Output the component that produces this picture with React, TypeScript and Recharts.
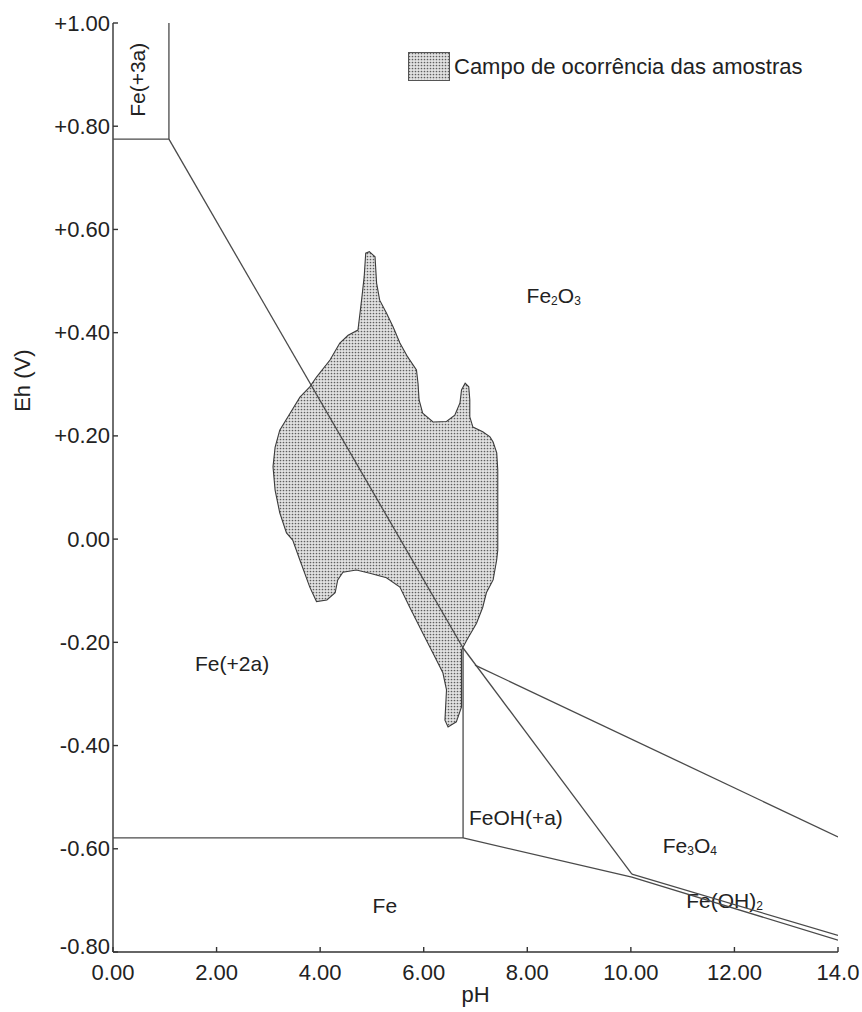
import React from 'react';
import { ComposedChart, Line, XAxis, YAxis, ReferenceDot, Legend } from 'recharts';

const FONT = '"Liberation Sans", Arial, sans-serif';
const INK = '#222';
const LINE = '#4a4a4a';

// axis ticks
const PH_TICKS = [0, 2, 4, 6, 8, 10, 12, 14];
const EH_TICKS = [-0.8, -0.6, -0.4, -0.2, 0, 0.2, 0.4, 0.6, 0.8, 1.0];

// outline of the sample field (pH, Eh), traced clockwise from the top of the spike
const samplePh = [
  4.95, 5.06, 5.09, 5.15, 5.28, 5.41, 5.54, 5.69, 5.86, 5.89, 5.91, 5.98, 6.18, 6.44, 6.6, 6.7,
  6.73, 6.8, 6.87, 6.89, 6.89, 6.95, 7.14, 7.28, 7.34, 7.41, 7.43, 7.43, 7.43, 7.41, 7.34, 7.21,
  7.14, 7.02, 6.83, 6.73, 6.73, 6.73, 6.63, 6.47, 6.41, 6.44, 6.37, 6.18, 5.98, 5.73, 5.54, 5.28,
  4.96, 4.7, 4.44, 4.34, 4.29, 4.13, 3.93, 3.8, 3.61, 3.47, 3.35, 3.22, 3.13, 3.09, 3.13, 3.22,
  3.42, 3.61, 3.8, 3.93, 4.19, 4.38, 4.54, 4.73, 4.8, 4.85, 4.88, 4.95,
];
const sampleEh = [
  0.557, 0.547, 0.496, 0.463, 0.438, 0.411, 0.38, 0.353, 0.328, 0.302, 0.27, 0.244, 0.227, 0.228, 0.24, 0.264,
  0.289, 0.302, 0.295, 0.27, 0.237, 0.217, 0.208, 0.198, 0.188, 0.167, 0.134, 0.076, -0.021, -0.04, -0.079, -0.104,
  -0.132, -0.163, -0.196, -0.215, -0.259, -0.325, -0.354, -0.364, -0.351, -0.292, -0.259, -0.221, -0.182, -0.132, -0.093, -0.075,
  -0.066, -0.06, -0.064, -0.079, -0.104, -0.118, -0.121, -0.093, -0.041, -0.002, 0.012, 0.051, 0.095, 0.14, 0.178, 0.211,
  0.244, 0.275, 0.295, 0.314, 0.347, 0.38, 0.395, 0.405, 0.463, 0.508, 0.554, 0.557,
];

// stability field boundaries, [pH, Eh]
const fe3aBox = [[0, 0.775], [1.08, 0.775], [1.08, 1.0]];
const fe2aFe2o3 = [[1.08, 0.775], [6.76, -0.211]];
const feohFe3o4 = [[6.76, -0.211], [10.02, -0.649]];
const fe2o3Fe3o4 = [[6.99, -0.244], [14, -0.577]];
const fe2aFeoh = [[6.76, -0.211], [6.76, -0.579]];
const fe2aFe = [[0, -0.579], [6.76, -0.579]];
const feLower = [[6.76, -0.579], [10.02, -0.655], [14, -0.777]];
const feoh2Upper = [[10.02, -0.649], [14, -0.768]];
const boundaries = [fe3aBox, fe2aFe2o3, feohFe3o4, fe2o3Fe3o4, fe2aFeoh, fe2aFe, feLower, feoh2Upper];

// field names
const labelText = ['Fe(+3a)', 'Fe2O3', 'Fe(+2a)', 'FeOH(+a)', 'Fe3O4', 'Fe(OH)2', 'Fe'];
const labelPh = [0.46, 8.51, 2.3, 7.78, 11.14, 11.81, 5.25];
const labelEh = [0.89, 0.473, -0.24, -0.538, -0.593, -0.699, -0.709];
const labelRotated = [true, false, false, false, false, false, false];

const sampleData = samplePh.map((ph, i) => ({ ph, eh: sampleEh[i] }));
const toRows = (pts: number[][]) => pts.map(([ph, eh]) => ({ ph, eh }));

const fmtEh = (v: number) => {
  const r = Math.round(v * 100) / 100;
  if (r === 0) return '0.00';
  return (r > 0 ? '+' : '') + r.toFixed(2);
};
const fmtPh = (v: number) => (v === 14 ? '14.0' : v.toFixed(2));

// split chemical name into normal/subscript pieces
const splitFormula = (s: string) => {
  const parts: { t: string; sub: boolean }[] = [];
  for (let i = 0; i < s.length; i++) {
    const c = s[i];
    const sub = /[0-9]/.test(c) && i > 0 && /[A-Za-z)]/.test(s[i - 1]);
    const last = parts[parts.length - 1];
    if (last && last.sub === sub) last.t += c;
    else parts.push({ t: c, sub });
  }
  return parts;
};

const makeLabel = (text: string, rotated: boolean) => (props: any) => {
  const vb = props.viewBox;
  const cx = vb.x + vb.width / 2;
  const cy = vb.y + vb.height / 2;
  const size = 21;
  const parts = splitFormula(text);
  return (
    <text
      x={cx}
      y={cy}
      textAnchor="middle"
      dominantBaseline="central"
      fontSize={size}
      fontFamily={FONT}
      fill={INK}
      transform={rotated ? `rotate(-90 ${cx} ${cy})` : undefined}
    >
      {parts.map((p, i) => (
        <tspan key={i} fontSize={p.sub ? 12 : size} dy={p.sub ? 6 : i > 0 && parts[i - 1].sub ? -6 : 0}>
          {p.t}
        </tspan>
      ))}
    </text>
  );
};

// left tick labels; the bottom one is nudged up so it clears "0.00" below it
const EhTick = (props: any) => {
  const { x, y, payload } = props;
  const v = payload.value;
  return (
    <text x={x} y={y} dy={v <= -0.79 ? -6 : 0} textAnchor="end" dominantBaseline="central" fontSize={22} fill={INK} fontFamily={FONT}>
      {fmtEh(v)}
    </text>
  );
};

const pathOf = (points: any[]) => points.map((p: any, i: number) => `${i ? 'L' : 'M'}${p.x},${p.y}`).join(' ');

// fill the traced outline using the points the Line has already scaled
const SampleField = (props: any) => {
  const { index, points } = props;
  if (index !== 0 || !points) return <g key={`sf-${index}`} />;
  return <path key="sf" d={pathOf(points) + ' Z'} fill="url(#stipple)" stroke="#3c3c3c" strokeWidth={1.1} />;
};

// boundaries drawn in the same layer, so they stay on top of the field
const Boundary = (props: any) => {
  const { index, points } = props;
  if (index !== 0 || !points) return <g key={`bd-${index}`} />;
  return <path key="bd" d={pathOf(points)} fill="none" stroke={LINE} strokeWidth={1.3} />;
};

const LegendBox = () => (
  <div style={{ display: 'flex', alignItems: 'center', fontFamily: FONT }}>
    <svg width={42} height={29} style={{ display: 'block' }}>
      <defs>
        <pattern id="stipple-legend" width={3} height={3} patternUnits="userSpaceOnUse">
          <rect width={3} height={3} fill="#e2e2e2" />
          <circle cx={1.5} cy={1.5} r={0.85} fill="#5e5e5e" />
        </pattern>
      </defs>
      <rect x={0.5} y={0.5} width={41} height={28} fill="url(#stipple-legend)" stroke="#555" strokeWidth={1} />
    </svg>
    <span style={{ fontSize: 22, color: INK, marginLeft: 4, whiteSpace: 'nowrap' }}>
      Campo de ocorrência das amostras
    </span>
  </div>
);

const tickStyle = { fontSize: 22, fill: INK, fontFamily: FONT };

const App: React.FC = () => {
  return (
    <div style={{ position: 'absolute', left: 0, top: 0, background: '#fff' }}>
      <ComposedChart width={862} height={1012} margin={{ top: 23, right: 24, bottom: 0, left: 0 }}>
        <defs>
          <pattern id="stipple" width={3} height={3} patternUnits="userSpaceOnUse">
            <rect width={3} height={3} fill="#e2e2e2" />
            <circle cx={1.5} cy={1.5} r={0.85} fill="#5e5e5e" />
          </pattern>
        </defs>
        <XAxis
          xAxisId="b"
          dataKey="ph"
          type="number"
          domain={[0, 14]}
          ticks={PH_TICKS}
          tickFormatter={fmtPh}
          height={60}
          tickSize={-5}
          tickMargin={17}
          stroke="#333"
          strokeWidth={1.4}
          tick={tickStyle}
          allowDataOverflow
          label={{ value: 'pH', position: 'insideBottom', offset: 10, fontSize: 22, fill: INK, fontFamily: FONT }}
        />
        <XAxis
          xAxisId="t"
          orientation="top"
          dataKey="ph"
          type="number"
          domain={[0, 14]}
          ticks={PH_TICKS}
          height={0}
          tickSize={-5}
          tick={false}
          stroke="#333"
          strokeWidth={1.4}
          allowDataOverflow
        />
        <YAxis
          yAxisId="l"
          type="number"
          domain={[-0.8, 1.0]}
          ticks={EH_TICKS}
          width={113}
          tickSize={-5}
          tickMargin={8}
          stroke="#333"
          strokeWidth={1.4}
          tick={EhTick}
          allowDataOverflow
          label={{
            content: (p: any) => {
              const vb = p.viewBox;
              const x = vb.x + 23;
              const y = vb.y + vb.height * 0.385;
              return (
                <text x={x} y={y} textAnchor="middle" dominantBaseline="central" fontSize={22} fill={INK} fontFamily={FONT} transform={`rotate(-90 ${x} ${y})`}>
                  Eh (V)
                </text>
              );
            },
          }}
        />
        <YAxis
          yAxisId="r"
          orientation="right"
          type="number"
          domain={[-0.8, 1.0]}
          ticks={EH_TICKS}
          width={0}
          tickSize={-5}
          tick={false}
          stroke="#333"
          strokeWidth={1.4}
          allowDataOverflow
        />

        <Line
          xAxisId="b"
          yAxisId="l"
          data={sampleData}
          dataKey="eh"
          type="linear"
          stroke="none"
          dot={SampleField}
          activeDot={false}
          isAnimationActive={false}
        />

        {boundaries.map((b, i) => (
          <Line
            key={`bd-${i}`}
            xAxisId="b"
            yAxisId="l"
            data={toRows(b)}
            dataKey="eh"
            type="linear"
            stroke="none"
            dot={Boundary}
            activeDot={false}
            isAnimationActive={false}
          />
        ))}

        {labelText.map((t, i) => (
          <ReferenceDot
            key={`lb-${i}`}
            xAxisId="b"
            yAxisId="l"
            x={labelPh[i]}
            y={labelEh[i]}
            r={1}
            fill="none"
            stroke="none"
            label={{ content: makeLabel(t, labelRotated[i]) }}
          />
        ))}

        <Legend
          layout="horizontal"
          verticalAlign="middle"
          align="center"
          wrapperStyle={{ top: 52, left: 408, width: 440, height: 32 }}
          content={() => <LegendBox />}
        />
      </ComposedChart>
    </div>
  );
};

export default App;
